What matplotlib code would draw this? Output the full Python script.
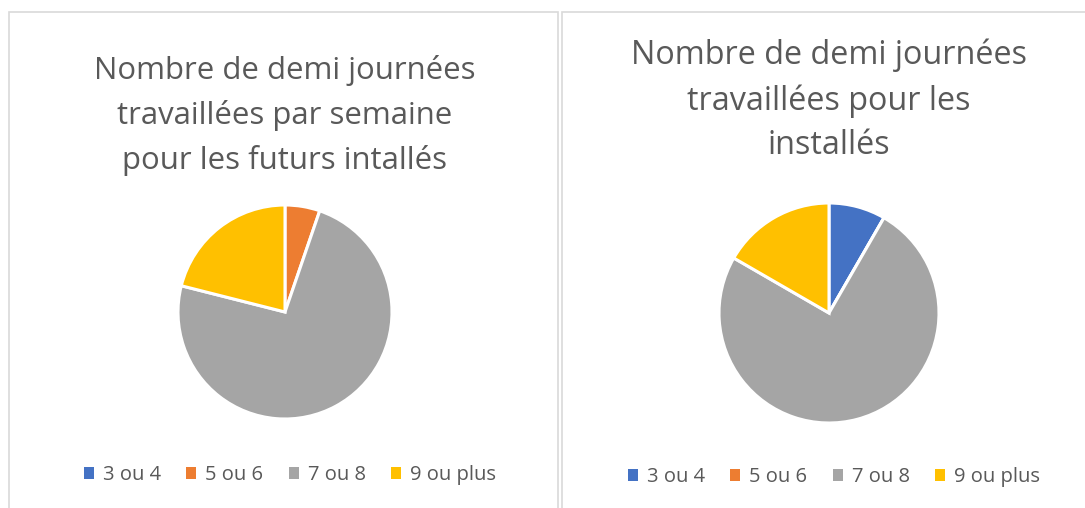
import matplotlib
matplotlib.use("Agg")
import matplotlib.pyplot as plt
from matplotlib.patches import Rectangle, Patch

categories = ["3 ou 4", "5 ou 6", "7 ou 8", "9 ou plus"]
futurs_values = [0, 1, 14, 4]
installes_values = [1, 0, 9, 2]
title_left = "Nombre de demi journées\ntravaillées par semaine\npour les futurs intallés"
title_right = "Nombre de demi journées\ntravaillées pour les\ninstallés"
colors = ["#4472C4", "#ED7D31", "#A5A5A5", "#FFC000"]

W, H = 1085, 508
fig = plt.figure(figsize=(W / 100, H / 100), dpi=100)
fig.patch.set_facecolor("white")

# panel borders
border = "#D9D9D9"
fig.patches.append(Rectangle((9 / W, -0.1), (558 - 9) / W, (H - 12) / H + 0.1,
                             transform=fig.transFigure, fill=False, ec=border, lw=1.2))
fig.patches.append(Rectangle((562 / W, -0.1), (W + 20 - 562) / W, (H - 12) / H + 0.1,
                             transform=fig.transFigure, fill=False, ec=border, lw=1.2))

font = "Open Sans"
title_color = "#595959"
text_color = "#595959"


def add_pie(values, cx, cy, r, title, tsize, tbase, tls, legend_cx, legend_y):
    m = 1.04
    ax = fig.add_axes([(cx - r * m) / W, (H - cy - r * m) / H, 2 * r * m / W, 2 * r * m / H])
    ax.pie(values, colors=colors, startangle=90, counterclock=False,
           wedgeprops=dict(edgecolor="white", linewidth=2.2))
    ax.set_xlim(-m, m)
    ax.set_ylim(-m, m)
    ax.set_aspect("equal")
    ax.axis("off")
    fig.text(cx / W, 1 - tbase / H, title, ha="center", va="baseline", fontsize=tsize,
             color=title_color, family=font, linespacing=tls, multialignment="center")
    handles = [Patch(facecolor=c, edgecolor="none") for c in colors]
    fig.legend(handles, categories, loc="center", ncol=4,
               bbox_to_anchor=(legend_cx / W, 1 - legend_y / H), frameon=False,
               handlelength=0.5, handleheight=0.5, handletextpad=0.45,
               columnspacing=1.25, prop=dict(family=font, size=14.5),
               labelcolor=text_color)


add_pie(futurs_values, 285, 312, 107, title_left, 22.4, 169, 1.59, 290, 475)
add_pie(installes_values, 829, 313, 110, title_right, 23.3, 154, 1.46, 834, 477)

fig.savefig("out.png", dpi=100, facecolor="white")
